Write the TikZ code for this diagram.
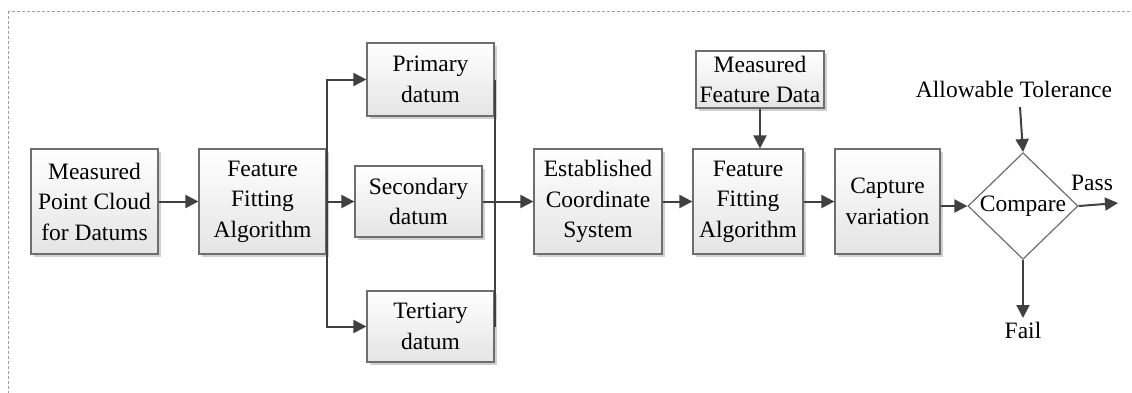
\documentclass[tikz,border=0pt]{standalone}
\usepackage{fontspec}
\setmainfont{Liberation Serif}
\usetikzlibrary{arrows.meta,shapes.geometric,shadows}
\definecolor{boxline}{HTML}{6E6E6E}
\definecolor{boxbot}{HTML}{E4E4E4}
\definecolor{shadowc}{HTML}{D0D0D0}
\definecolor{wire}{HTML}{404040}
\definecolor{frame}{HTML}{A0A0A0}
\begin{document}
\begin{tikzpicture}[x=1pt,y=-1pt,
  font=\fontsize{23.5}{30.5}\selectfont,
  blk/.style={draw=boxline, line width=1.2pt, top color=white, bottom color=boxbot,
    inner sep=0pt, align=center,
    drop shadow={shadow xshift=3pt, shadow yshift=-3pt, fill=shadowc, opacity=1}},
  dec/.style={diamond, draw=boxline, line width=1.2pt, fill=white, inner sep=0pt,
    minimum width=110pt, minimum height=94pt},
  lbl/.style={inner sep=0pt, align=center},
  flow/.style={draw=wire, line width=2pt, -{Triangle[length=13pt,width=13pt]}},
  bus/.style={draw=wire, line width=2pt}]
\useasboundingbox (0,0) rectangle (1132,392);
% dashed outer frame
\draw[frame, line width=0.9pt, dash pattern=on 3pt off 2pt] (8,11) rectangle (1150,410);

% blocks
\node[blk, minimum width=127pt, minimum height=105pt] (mpc) at (94.5,201.5) {Measured\\Point Cloud\\for Datums};
\node[blk, minimum width=127pt, minimum height=105pt] (ffa) at (262.5,201.5) {Feature\\Fitting\\Algorithm};
\node[blk, minimum width=127pt, minimum height=73pt] (pri) at (430.5,79.5) {Primary\\datum};
\node[blk, minimum width=127pt, minimum height=71pt] (sec) at (418.5,201.5) {Secondary\\datum};
\node[blk, minimum width=127pt, minimum height=71pt] (ter) at (430.5,326.5) {Tertiary\\datum};
\node[blk, minimum width=128pt, minimum height=105pt] (est) at (598,201.5) {Established\\Coordinate\\System};
\node[blk, minimum width=128pt, minimum height=57pt] (mfd) at (760,79.5) {Measured\\Feature Data};
\node[blk, minimum width=110pt, minimum height=105pt] (ffb) at (748,201.5) {Feature\\Fitting\\Algorithm};
\node[blk, minimum width=105pt, minimum height=105pt] (cap) at (887.5,201.5) {Capture\\variation};
\node[dec] (cmp) at (1023,206) {Compare};

% free labels
\node[lbl] (tol) at (1014,89) {Allowable Tolerance};
\node[lbl] (pass) at (1092,183) {Pass};
\node[lbl] (fail) at (1023,330) {Fail};
\coordinate (tolout) at (1020,107);
\coordinate (passend) at (1118,203);
\coordinate (failend) at (1023,318);

% connectors
\draw[flow] (mpc.east) -- (ffa.west);
\draw[flow] (ffa.east) -- (sec.west);
\draw[flow] (ffa.east) |- (pri.west);
\draw[flow] (ffa.east) |- (ter.west);
\draw[bus] (pri.east) -- (ter.east);
\draw[flow] (sec.east) -- (est.west);
\draw[flow] (est.east) -- (ffb.west);
\draw[flow] (mfd.south) -- (mfd.south |- ffb.north);
\draw[flow] (ffb.east) -- (cap.west);
\draw[flow] (cap.east |- cmp.west) -- (cmp.west);
\draw[flow] (tolout) -- (cmp.north);
\draw[flow] (cmp.east) -- (passend);
\draw[flow] (cmp.south) -- (failend);
\end{tikzpicture}
\end{document}
